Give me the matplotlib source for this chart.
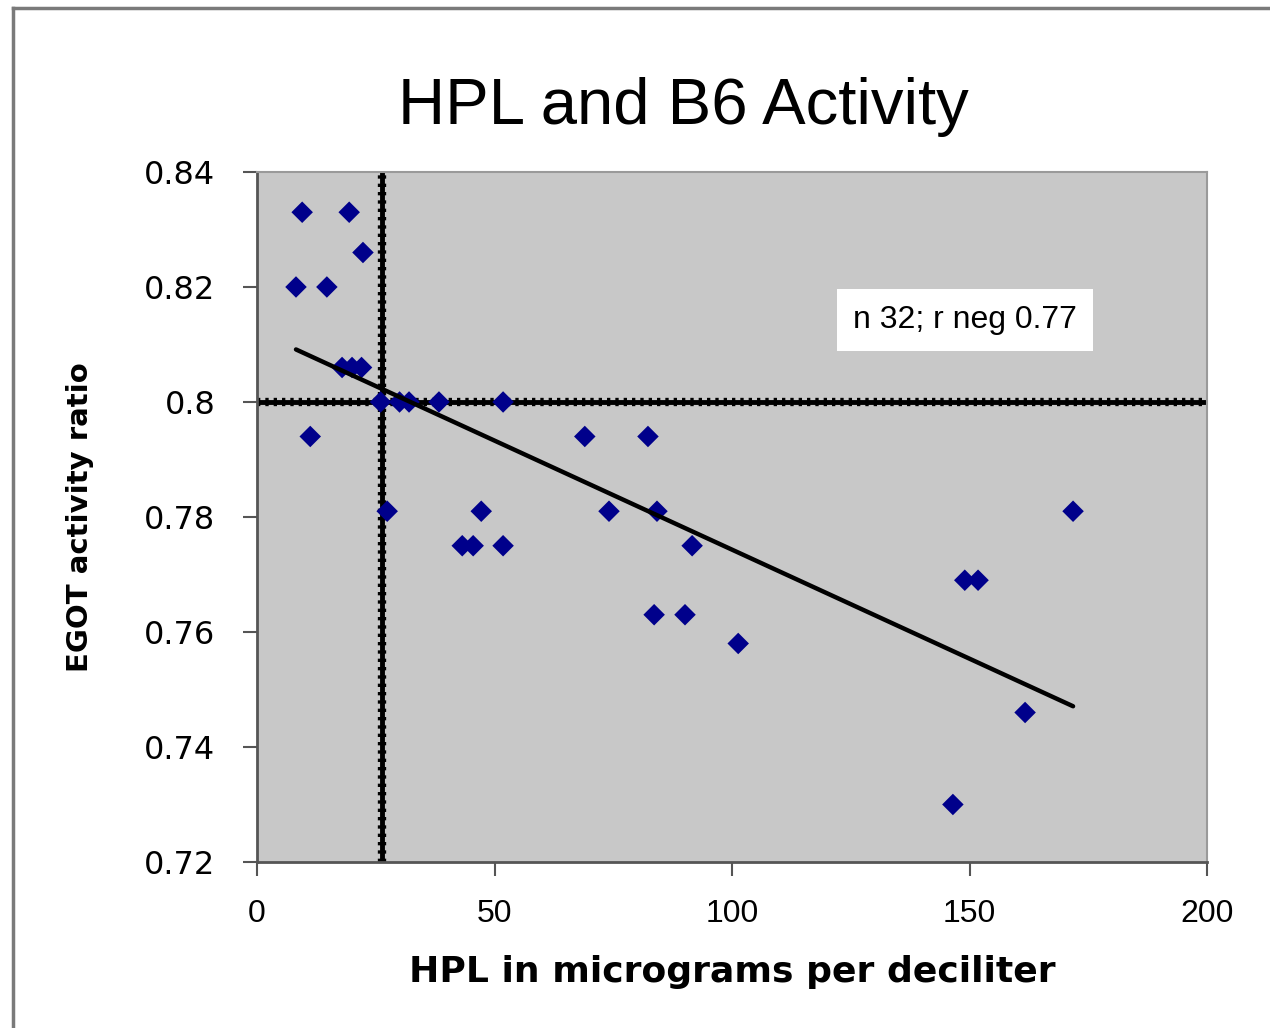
import numpy as np
import matplotlib
matplotlib.use("Agg")
import matplotlib.pyplot as plt
from matplotlib.lines import Line2D

plt.rcParams["font.family"] = ["Liberation Sans", "DejaVu Sans"]

# HPL (micrograms per deciliter) and EGOT activity ratio
hpl = [9.5, 19.4, 22.3, 8.2, 14.7,
       17.9, 20.0, 22.0, 11.2,
       26.0, 30.0, 32.0, 38.3, 51.8,
       27.4, 47.2, 43.2, 45.5, 51.8,
       69.0, 82.3, 74.1, 84.2, 91.6,
       83.6, 90.1, 101.3, 149.0, 151.8,
       171.8, 161.7, 146.5]
egot = [0.833, 0.833, 0.826, 0.820, 0.820,
        0.806, 0.806, 0.806, 0.794,
        0.800, 0.800, 0.800, 0.800, 0.800,
        0.781, 0.781, 0.775, 0.775, 0.775,
        0.794, 0.794, 0.781, 0.781, 0.775,
        0.763, 0.763, 0.758, 0.769, 0.769,
        0.781, 0.746, 0.730]

hpl_cut = 26.3
egot_cut = 0.80
x_ticks = [0, 50, 100, 150, 200]
y_ticks = [0.72, 0.74, 0.76, 0.78, 0.80, 0.82, 0.84]
y_tick_labels = ["0.72", "0.74", "0.76", "0.78", "0.8", "0.82", "0.84"]
note = "n 32; r neg 0.77"

fig = plt.figure(figsize=(12.7, 10.28), dpi=100)
ax = fig.add_axes([0.2024, 0.1615, 0.748, 0.6712])
ax.set_facecolor("#c8c8c8")

# outer chart frame (only left and top edges are inside the picture)
fig.add_artist(Line2D([13 / 1270, 13 / 1270], [0, 1 - 8 / 1028],
                      transform=fig.transFigure, color="#7a7a7a", lw=2.5))
fig.add_artist(Line2D([13 / 1270, 1], [1 - 8 / 1028, 1 - 8 / 1028],
                      transform=fig.transFigure, color="#7a7a7a", lw=2.5))

# thick stippled reference lines
for style in ["-", (0, (0.4, 0.6))]:
    lw = 3.5 if style == "-" else 6
    ax.axhline(egot_cut, color="black", lw=lw, linestyle=style, zorder=2)
    ax.axvline(hpl_cut, color="black", lw=lw, linestyle=style, zorder=2)

ax.scatter(hpl, egot, marker="D", s=120, color="#00008b", edgecolors="none", zorder=3)

slope, intercept = np.polyfit(hpl, egot, 1)
xs = np.array([min(hpl), max(hpl)])
ax.plot(xs, slope * xs + intercept, color="black", lw=3.2, zorder=4,
        solid_capstyle="round")

ax.text(149, 0.8143, note, fontsize=23, ha="center", va="center",
        bbox=dict(boxstyle="square,pad=0.5", facecolor="white", edgecolor="none"),
        zorder=5)

ax.set_xlim(0, 200)
ax.set_ylim(0.72, 0.84)
ax.set_xticks(x_ticks)
ax.set_yticks(y_ticks)
ax.set_yticklabels(y_tick_labels, family="DejaVu Sans", fontsize=23)
ax.tick_params(axis="both", direction="out", length=10, width=1.5, color="#555555")
ax.tick_params(axis="x", pad=17, labelsize=23)
ax.tick_params(axis="y", pad=20)

for side in ["top", "right"]:
    ax.spines[side].set_color("#9a9a9a")
    ax.spines[side].set_linewidth(1.5)
for side in ["left", "bottom"]:
    ax.spines[side].set_color("#555555")
    ax.spines[side].set_linewidth(2)

fig.text(683 / 1270, 1 - 107 / 1028, "HPL and B6 Activity", fontsize=47,
         ha="center", va="center")
ax.set_xlabel("HPL in micrograms per deciliter", fontsize=26, fontweight="bold",
              family="DejaVu Sans")
ax.set_ylabel("EGOT activity ratio", fontsize=21, fontweight="bold",
              family="DejaVu Sans")
ax.xaxis.set_label_coords(0.5, -(972 - 862) / 690, transform=ax.transAxes)
ax.yaxis.set_label_coords(-(257 - 80) / 950, 0.5)
ax.xaxis.label.set_va("center")
ax.yaxis.label.set_va("center")

fig.savefig("out.png", dpi=100, facecolor="white")
